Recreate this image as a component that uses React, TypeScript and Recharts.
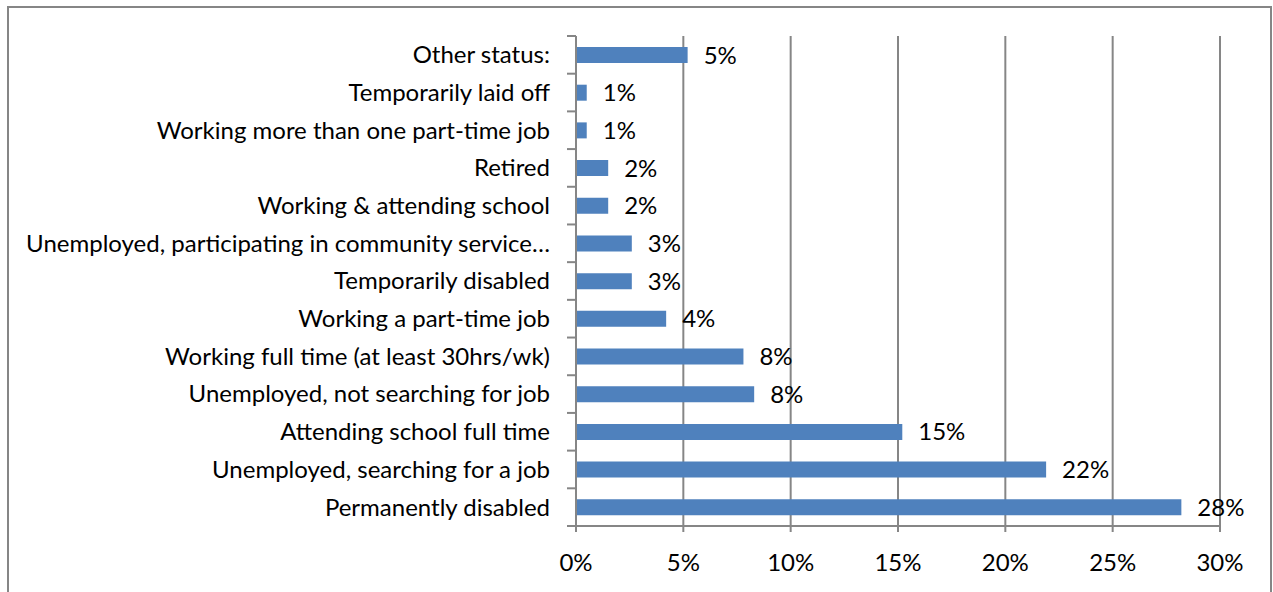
import React from 'react';
import { BarChart, Bar, XAxis, YAxis, CartesianGrid, LabelList } from 'recharts';

const statuses = [
  'Other status:',
  'Temporarily laid off',
  'Working more than one part-time job',
  'Retired',
  'Working & attending school',
  'Unemployed, participating in community service…',
  'Temporarily disabled',
  'Working a part-time job',
  'Working full time (at least 30hrs/wk)',
  'Unemployed, not searching for job',
  'Attending school full time',
  'Unemployed, searching for a job',
  'Permanently disabled',
];

const shares = [5.2, 0.5, 0.5, 1.5, 1.5, 2.6, 2.6, 4.2, 7.8, 8.3, 15.2, 21.9, 28.2];

const xTicks = [0, 5, 10, 15, 20, 25, 30];

const data = statuses.map((status, i) => ({ status, share: shares[i] }));

const FONT = 'Lato, "Open Sans", sans-serif';
const GRID = '#868686';
const PLOT_H = 490;
const band = PLOT_H / statuses.length;

function CategoryTick(props: any) {
  const { x, y, payload, index } = props;
  return (
    <g>
      <text x={x - 26} y={y} dy="0.35em" textAnchor="end" fontSize={24} fill="#000" fontFamily={FONT}>
        {payload.value}
      </text>
      <line x1={x - 9} x2={x} y1={y - band / 2} y2={y - band / 2} stroke={GRID} strokeWidth={2} />
      {index === statuses.length - 1 && (
        <line x1={x - 9} x2={x} y1={y + band / 2} y2={y + band / 2} stroke={GRID} strokeWidth={2} />
      )}
    </g>
  );
}

export default function App() {
  return (
    <div
      style={{
        position: 'absolute',
        left: 7,
        top: 6,
        width: 1265,
        height: 600,
        border: `2px solid ${GRID}`,
        boxSizing: 'border-box',
        background: '#fff',
      }}
    >
      <BarChart
        width={1261}
        height={590}
        data={data}
        layout="vertical"
        margin={{ top: 28, right: 50, bottom: 12, left: 0 }}
        barCategoryGap={0}
      >
        <CartesianGrid horizontal={false} stroke={GRID} strokeWidth={2} verticalValues={xTicks} />
        <XAxis
          type="number"
          domain={[0, 30]}
          ticks={xTicks}
          tickFormatter={(v: number) => `${v}%`}
          height={60}
          stroke={GRID}
          strokeWidth={2}
          tickSize={6}
          tickMargin={22}
          tick={{ fill: '#000', fontSize: 24, fontFamily: FONT }}
        />
        <YAxis
          type="category"
          dataKey="status"
          width={567}
          stroke={GRID}
          strokeWidth={2}
          tickLine={false}
          tickSize={0}
          tickMargin={0}
          tick={<CategoryTick />}
          interval={0}
        />
        <Bar dataKey="share" fill="#4F81BD" barSize={16} isAnimationActive={false}>
          <LabelList
            dataKey="share"
            position="right"
            offset={16}
            formatter={(v: any) => `${Math.round(Number(v))}%`}
            style={{ fill: '#000', fontSize: 24, fontFamily: FONT }}
          />
        </Bar>
      </BarChart>
    </div>
  );
}
